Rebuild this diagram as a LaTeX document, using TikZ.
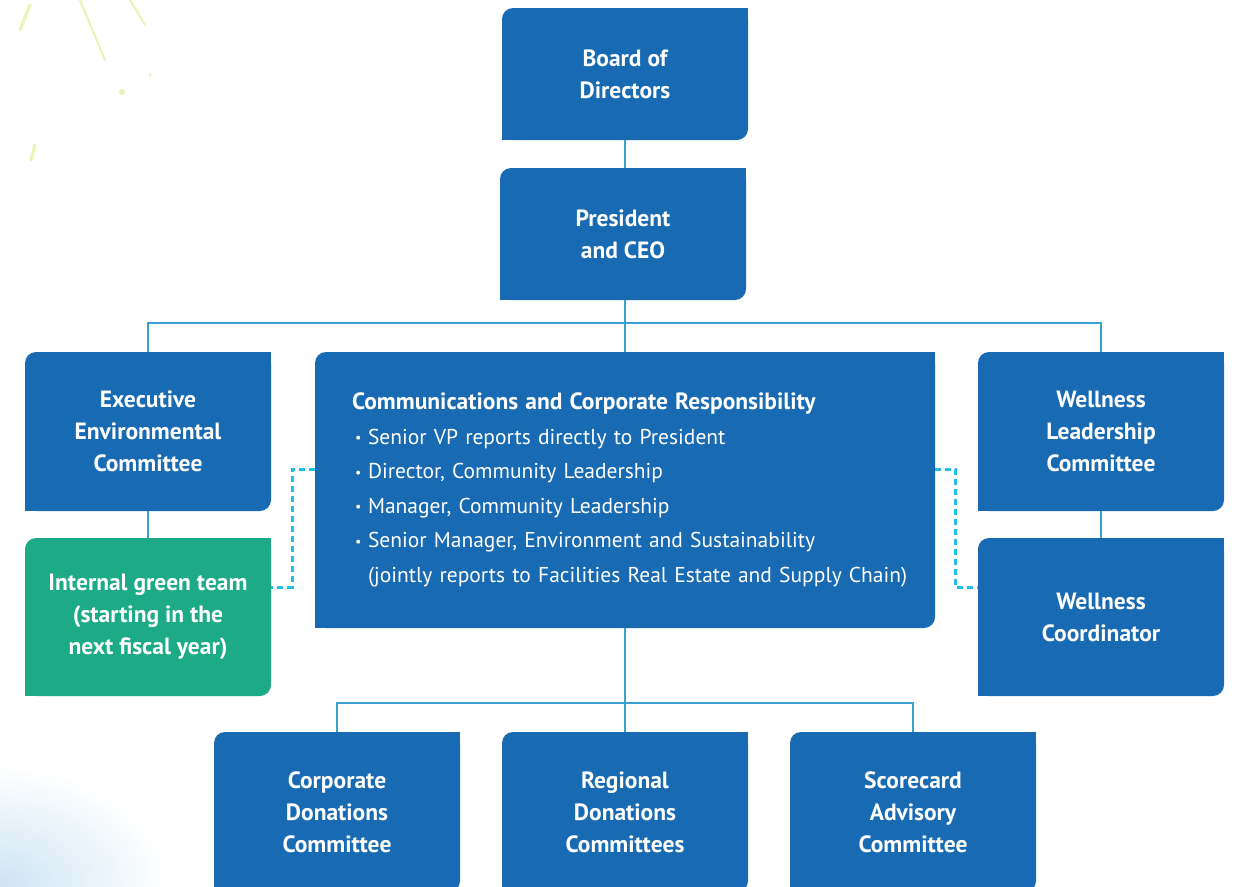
\documentclass[tikz,border=0pt]{standalone}
\usepackage{fontspec}
\setmainfont{PT Sans}
\usetikzlibrary{backgrounds}

\definecolor{boxblue}{RGB}{24,106,178}
\definecolor{teamgreen}{RGB}{28,170,135}
\definecolor{linkblue}{RGB}{58,160,210}
\definecolor{dashcyan}{RGB}{28,192,232}
\definecolor{splash}{RGB}{205,225,70}
\definecolor{haze}{RGB}{205,228,242}

\newcommand\bul{\hspace*{3pt}\makebox[13pt][l]{\raisebox{0.15ex}{\fontsize{14}{14}\selectfont\textbullet}}}
\newcommand\nobul{\hspace*{16pt}}

\tikzset{
	unit/.style={minimum width=246pt, minimum height=159pt, inner sep=0pt, outer sep=0pt,
		text=white, align=center, font=\fontsize{23.5}{32}\selectfont\bfseries},
	link/.style={draw=linkblue, line width=2.5pt},
	dotlink/.style={draw=dashcyan, line width=3pt, dash pattern=on 6pt off 4pt},
}

\begin{document}
\begin{tikzpicture}[x=1pt,y=-1pt]
	\useasboundingbox (0,0) rectangle (1238,886);
	% faint brush strokes in the corners
	\begin{scope}[splash, opacity=0.4, line cap=round]
		\draw[line width=3pt] (30,5) -- (20,30);
		\draw[line width=2pt] (80,0) -- (105,60);
		\draw[line width=2pt] (130,0) -- (145,25);
		\draw[line width=3pt] (35,145) -- (31,160);
		\fill (122,92) circle (3pt);
		\fill (150,75) circle (1.5pt);
	\end{scope}
	\shade[inner color=haze, outer color=white] (0,886) ellipse (170pt and 120pt);

	% top of the chart
	\node[unit, minimum height=132pt] (board) at (625,74) {Board of\\Directors};
	\node[unit, minimum height=132pt] (ceo) at (623,234) {President\\and CEO};

	% second row
	\node[unit] (exec) at (148,431.5) {Executive\\Environmental\\Committee};
	\node[unit, minimum width=620pt, minimum height=276pt, text width=546pt, align=left,
		font=\fontsize{21.5}{34.6}\selectfont] (comm) at (625,490)
		{\mbox{\fontsize{23.5}{34.6}\selectfont\bfseries Communications and Corporate Responsibility}\\
		\bul Senior VP reports directly to President\\
		\bul Director, Community Leadership\\
		\bul Manager, Community Leadership\\
		\bul Senior Manager, Environment and Sustainability\\
		\mbox{\nobul (jointly reports to Facilities Real Estate and Supply Chain)}};
	\node[unit] (well) at (1101,431.5) {Wellness\\Leadership\\Committee};

	% third row
	\node[unit, minimum height=158pt] (green) at (148,617) {Internal green team\\(starting in the\\next fiscal year)};
	\node[unit, minimum height=158pt] (coord) at (1101,617) {Wellness\\Coordinator};

	% committees under comm
	\node[unit, minimum height=160pt] (corp) at (337,812) {Corporate\\Donations\\Committee};
	\node[unit, minimum height=160pt] (regional) at (625,812) {Regional\\Donations\\Committees};
	\node[unit, minimum height=160pt] (score) at (913,812) {Scorecard\\Advisory\\Committee};

	% box fills, top left and bottom right corners rounded
	\begin{scope}[on background layer]
		\foreach \n/\c in {board/boxblue, ceo/boxblue, exec/boxblue, comm/boxblue, well/boxblue,
			green/teamgreen, coord/boxblue, corp/boxblue, regional/boxblue, score/boxblue} {
			\fill[\c, rounded corners=11pt] (\n.south west) rectangle (\n.north east);
			\fill[\c] (\n.north east) rectangle ([xshift=-14pt,yshift=-14pt]\n.north east);
			\fill[\c] (\n.south west) rectangle ([xshift=14pt,yshift=14pt]\n.south west);
		}
	\end{scope}

	% solid reporting lines
	\coordinate (bus) at (625,323);
	\coordinate (bus2) at (625,703);
	\draw[link] (board.south) -- (board.south |- ceo.north);
	\draw[link] (ceo.south -| comm.north) -- (comm.north);
	\draw[link] (exec.north) |- (bus) -| (well.north);
	\draw[link] (exec.south) -- (green.north);
	\draw[link] (well.south) -- (coord.north);
	\draw[link] (comm.south) -- (regional.north);
	\draw[link] (corp.north) |- (bus2) -| (score.north);

	% dotted links
	\draw[dotlink] ([yshift=21pt]comm.west) -- ++(-23,0) |- ([yshift=30pt]green.east);
	\draw[dotlink] ([yshift=21pt]comm.east) -- ++(20,0) |- ([yshift=30pt]coord.west);
\end{tikzpicture}
\end{document}
